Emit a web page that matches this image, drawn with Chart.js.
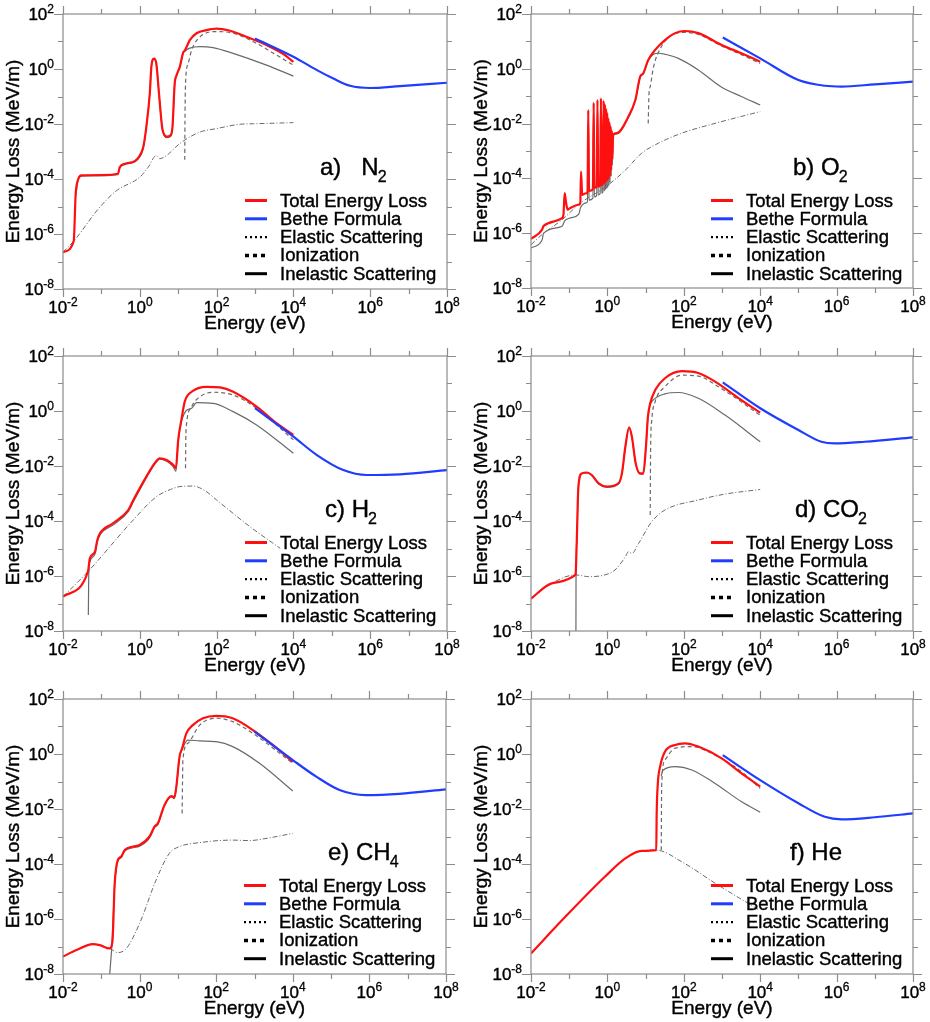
<!DOCTYPE html>
<html><head><meta charset="utf-8">
<script src="https://cdn.jsdelivr.net/npm/chart.js@4.4.1/dist/chart.umd.min.js"></script>
<style>
html,body{margin:0;padding:0;background:#fff;}
#wrap{position:relative;width:930px;height:1022px;overflow:hidden;background:#fff;}
canvas{position:absolute;}
</style></head><body><div id="wrap">
<canvas id="c0" width="465" height="340" style="left:0;top:0"></canvas>
<canvas id="c1" width="465" height="340" style="left:465px;top:0"></canvas>
<canvas id="c2" width="465" height="340" style="left:0;top:340px"></canvas>
<canvas id="c3" width="465" height="340" style="left:465px;top:340px"></canvas>
<canvas id="c4" width="465" height="342" style="left:0;top:680px"></canvas>
<canvas id="c5" width="465" height="342" style="left:465px;top:680px"></canvas>
</div>
<script>
// ---------- tick labels ----------
const X_TICKS = [1e-2,1e-1,1e0,1e1,1e2,1e3,1e4,1e5,1e6,1e7,1e8];
const X_LABEL_VALUES = [1e-2,1e0,1e2,1e4,1e6,1e8];
const X_LABEL_EXPS = ['-2','0','2','4','6','8'];
const Y_TICKS = [1e-8,1e-7,1e-6,1e-5,1e-4,1e-3,1e-2,1e-1,1e0,1e1,1e2];
const Y_LABEL_VALUES = [1e-8,1e-6,1e-4,1e-2,1e0,1e2];
const Y_LABEL_EXPS = ['-8','-6','-4','-2','0','2'];
const X_TITLE = 'Energy (eV)';
const Y_TITLE = 'Energy Loss (MeV/m)';
const LEGEND_LABELS = ['Total Energy Loss','Bethe Formula','Elastic Scattering','Ionization','Inelastic Scattering'];
const PANEL_NAMES = ['a)   N','b) O','c) H','d) CO','e) CH','f) He'];
const PANEL_SUBS = ['2','2','2','2','4',''];

// ---------- data: [energy eV, energy loss MeV/m] ----------
const N2_TOTAL = [[0.01,2.2e-7],[0.019,5.5e-7],[0.0214,2.9e-5],[0.025,1.0e-4],[0.030,1.35e-4],[0.1,1.4e-4],[0.27,1.55e-4],[0.30,2.7e-4],[0.41,3.6e-4],[0.74,4.5e-4],[1.0,7.2e-4],[1.23,1.45e-3],[1.48,7.9e-3],[1.82,0.129],[2.0,1.2],[2.34,2.4],[2.69,1.58],[3.16,0.129],[3.8,7.9e-3],[4.07,5.1e-3],[5.0,3.5e-3],[6.3,3.9e-3],[7.1,7.9e-3],[8.1,0.295],[9.1,0.6],[11,1.2],[13.5,4.0],[14.8,4.6],[20,11.2],[30,20],[55,26],[100,29.5],[224,24.5],[600,14.8],[2000,7.4],[5500,3.5],[1e4,1.8]];
const N2_INEL = [[0.0214,2.5e-5],[0.025,9.5e-5],[0.03,1.26e-4],[0.27,1.45e-4],[0.3,2.5e-4],[0.41,3.4e-4],[0.74,4.2e-4],[1.0,6.3e-4],[1.23,1.3e-3],[1.48,7.6e-3],[1.82,0.126],[2.0,1.17],[2.34,2.34],[2.69,1.55],[3.16,0.126],[3.8,7.4e-3],[4.07,4.7e-3],[5.0,3.2e-3],[6.3,3.5e-3],[7.1,7.4e-3],[8.1,0.28],[9.1,0.575],[11,1.15],[13.5,3.8],[14.8,4.4],[20,5.75],[37,6.5],[81,6.0],[270,3.7],[2000,1.38],[1e4,0.55]];
const N2_ION = [[14.8,5e-4],[15.1,0.032],[15.8,0.5],[18.2,1.58],[22.4,4.9],[37,14.8],[100,23],[270,20],[910,9.8],[3700,3.16],[1e4,1.38]];
const N2_ELAS = [[0.01,2.2e-7],[0.019,5.5e-7],[0.091,9.5e-6],[0.25,3.8e-5],[1.0,1.17e-4],[1.66,2.7e-4],[2.69,7.2e-4],[3.3,5.5e-4],[5.0,7.2e-4],[11,1.95e-3],[37,5.1e-3],[100,6.8e-3],[410,9.8e-3],[910,1.02e-2],[1e4,1.12e-2]];
const N2_BETHE = [[1000,12.9],[1e4,2.8],[4.1e4,0.91],[1.1e5,0.45],[3.0e5,0.245],[1e6,0.204],[6e6,0.24],[1e8,0.316]];

const O2_TOTAL = [[0.01,6.2e-7],[0.0195,1.35e-6],[0.0214,1.86e-6],[0.065,3.55e-6],[0.071,5e-6],[0.076,2.9e-5],[0.083,1.26e-5],[0.091,7.2e-6],[0.1,7.9e-6],[0.178,1.1e-5],[0.195,1.26e-5],[0.204,1.78e-4],[0.219,2.5e-5],[0.25,2.75e-5],[0.29,2.9e-5],
 [0.302,3.2e-5],[0.316,0.0316],[0.331,3.5e-5],[0.417,4e-5],[0.437,0.059],[0.457,4.5e-5],[0.525,5e-5],[0.55,0.074],[0.575,5e-5],[0.646,5.6e-5],[0.676,0.085],[0.708,5.6e-5],[0.759,6.3e-5],[0.794,0.069],[0.832,6.3e-5],[0.861,0.05],[0.891,7.1e-5],[0.923,0.035],[0.955,7.9e-5],[0.989,0.025],[1.023,8.9e-5],[1.059,0.0158],[1.096,1e-4],[1.135,0.0112],[1.175,1.26e-4],[1.216,7.9e-3],[1.259,2e-4],[1.303,5.6e-3],[1.349,5e-4],[1.413,4e-3],
 [1.78,4.5e-3],[3.55,0.018],[5.4,0.074],[7.2,0.52],[8.7,0.69],[11.7,2.1],[17.8,4.9],[32,11.2],[59,20],[107,24],[240,20],[980,7.4],[3200,3.7],[1e4,1.82]];
const O2_INEL = [[0.01,2.9e-7],[0.0195,5.6e-7],[0.0214,1e-6],[0.065,1.8e-6],[0.076,2.8e-6],[0.1,3.5e-6],[0.178,5e-6],[0.2,8.9e-6],[0.29,1.3e-5],
 [0.302,1.5e-5],[0.316,0.028],[0.331,1.6e-5],[0.417,1.9e-5],[0.437,0.053],[0.457,2.1e-5],[0.525,2.4e-5],[0.55,0.066],[0.575,2.5e-5],[0.646,2.8e-5],[0.676,0.076],[0.708,2.9e-5],[0.759,3.2e-5],[0.794,0.062],[0.832,3.4e-5],[0.861,0.045],[0.891,3.8e-5],[0.923,0.031],[0.955,4.2e-5],[0.989,0.022],[1.023,4.6e-5],[1.059,0.014],[1.096,5.5e-5],[1.135,0.01],[1.175,7e-5],[1.216,7e-3],[1.259,1.2e-4],[1.303,5e-3],[1.349,3e-4],[1.413,3.6e-3],
 [1.78,4.2e-3],[3.55,0.017],[5.4,0.069],[7.2,0.49],[8.7,0.65],[11.7,2.0],[15.8,3.3],[22,3.7],[32,3.4],[72,2.4],[240,0.91],[980,0.214],[3200,0.098],[1e4,0.048]];
const O2_ION = [[11.7,0.0102],[12.3,0.126],[13.2,0.224],[16.2,1.2],[26,6.5],[48,17],[107,21.4],[240,17.8],[980,6.8],[3200,3.3],[1e4,1.58]];
const O2_ELAS = [[0.01,3.8e-7],[0.0195,8.9e-7],[0.065,3.1e-6],[0.195,1.26e-5],[0.59,3.3e-5],[1.07,5.9e-5],[2.95,2.0e-4],[7.9,8.3e-4],[22,1.95e-3],[89,4.5e-3],[660,0.0102],[1e4,0.0275]];
const O2_BETHE = [[1050,13.8],[1e4,2.4],[1e5,0.39],[4.9e5,0.24],[1.35e6,0.224],[1e7,0.27],[1e8,0.34]];

const H2_TOTAL = [[0.01,1.78e-7],[0.0447,1.45e-6],[0.05,4.4e-6],[0.068,7.6e-6],[0.078,2.0e-5],[0.091,3.5e-5],[0.2,8.3e-5],[0.5,2.5e-4],[0.68,5.8e-4],[1.48,4.1e-3],[2.45,0.0126],[3.3,0.019],[5.0,0.0166],[7.4,0.011],[8.7,8.3e-3],[10,0.089],[12.3,0.54],[14.8,2.2],[22.4,5.0],[55,7.6],[123,7.2],[270,5.0],[1100,1.45],[3700,0.355],[1e4,0.135]];
const H2_INEL = [[0.0457,3.8e-8],[0.0468,1e-6],[0.05,3.2e-6],[0.068,6.3e-6],[0.078,1.66e-5],[0.091,3.0e-5],[0.2,7.1e-5],[0.5,2.2e-4],[0.68,5e-4],[1.48,3.7e-3],[2.45,0.0117],[3.3,0.0178],[5.0,0.015],[7.4,9.5e-3],[8.7,6.3e-3],[10,0.079],[12.3,0.45],[15.8,1.0],[22.4,1.26],[30,2.0],[81,1.9],[270,0.95],[1100,0.31],[1e4,0.029]];
const H2_ION = [[15.5,8.3e-3],[15.8,0.1],[16.6,0.355],[22.4,1.45],[37,3.3],[81,4.8],[270,3.8],[1100,1.26],[1e4,0.089]];
const H2_ELAS = [[0.01,1.78e-7],[0.0447,1.45e-6],[0.68,1.1e-4],[2.69,7.6e-4],[6.3,1.4e-3],[11,1.78e-3],[24.5,1.86e-3],[50,1.26e-3],[100,5.8e-4],[740,6.2e-5],[4500,1.02e-5]];
const H2_BETHE = [[1000,1.26],[1e4,0.117],[4.1e4,0.025],[2e5,7.1e-3],[8.1e5,4.7e-3],[6e6,5e-3],[1e8,7.1e-3]];

const CO2_TOTAL = [[0.01,1.5e-7],[0.035,5.4e-7],[0.145,1.1e-6],[0.148,1.26e-6],[0.158,2.0e-5],[0.174,1.78e-3],[0.214,5.4e-3],[0.29,5.8e-3],[0.39,4.7e-3],[0.59,2.35e-3],[0.98,1.78e-3],[1.95,2.35e-3],[2.4,5.4e-3],[2.95,0.05],[3.7,0.257],[4.37,0.117],[5.5,0.0126],[7.2,5.4e-3],[8.7,5.4e-3],[10.2,0.05],[11.5,0.62],[13.2,1.9],[17.8,5.75],[32,15.5],[89,28],[240,24],[660,11.7],[2700,2.95],[1e4,0.87]];
const CO2_INEL = [[0.15,1e-8],[0.151,1.1e-6],[0.158,1.8e-5],[0.174,1.7e-3],[0.214,5.2e-3],[0.29,5.6e-3],[0.39,4.5e-3],[0.59,2.2e-3],[0.98,1.65e-3],[1.95,2.2e-3],[2.4,5.2e-3],[2.95,0.048],[3.7,0.25],[4.37,0.112],[5.5,0.012],[7.2,5.1e-3],[8.7,5.1e-3],[10.2,0.047],[11.5,0.58],[13.2,1.7],[14.5,2.2],[32,4.2],[72,4.7],[240,2.9],[1200,0.71],[1e4,0.076]];
const CO2_ION = [[13.2,1.66e-4],[13.5,0.0316],[14.5,0.47],[17.8,2.2],[32,7.6],[89,20],[240,18.6],[810,7.6],[1e4,0.71]];
const CO2_ELAS = [[0.01,1.5e-7],[0.035,5.4e-7],[0.145,1.1e-6],[0.32,9.5e-7],[0.87,1.1e-6],[1.58,1.66e-6],[2.95,5e-6],[3.55,7.6e-6],[4.37,6.6e-6],[6.5,1.5e-5],[14.5,9.5e-5],[32,2.5e-4],[240,5.8e-4],[1200,9.5e-4],[1e4,1.4e-3]];
const CO2_BETHE = [[1050,11],[1e4,1.26],[1e5,0.204],[4e5,0.076],[8.9e5,0.066],[5.5e6,0.076],[1e8,0.11]];

const CH4_TOTAL = [[0.01,4.3e-8],[0.0224,7.4e-8],[0.06,1.23e-7],[0.091,1.12e-7],[0.166,8.5e-8],[0.195,1.5e-7],[0.224,2.0e-5],[0.27,1.4e-4],[0.33,1.86e-4],[0.41,3.2e-4],[0.68,4.3e-4],[1.0,4.9e-4],[1.82,1e-3],[2.45,2.3e-3],[3.0,3.0e-3],[4.47,0.0141],[6.8,0.0295],[8.1,0.0263],[9.1,0.065],[11,0.79],[12.9,1.62],[16.6,5.6],[24.5,11.2],[45,20],[100,24.5],[270,20],[910,7.4],[3000,2.14],[1e4,0.52]];
const CH4_INEL = [[0.166,1e-8],[0.19,1.26e-7],[0.224,1.8e-5],[0.27,1.26e-4],[0.33,1.7e-4],[0.41,2.95e-4],[0.68,3.9e-4],[1.0,4.4e-4],[1.82,8.9e-4],[2.45,2.1e-3],[3.0,2.75e-3],[4.47,0.0132],[6.8,0.0275],[8.1,0.024],[9.1,0.059],[11,0.72],[12.9,1.48],[18.2,3.2],[37,3.0],[100,2.8],[270,1.86],[1350,0.46],[1e4,0.045]];
const CH4_ION = [[12.9,6.9e-3],[13.2,0.1],[13.5,0.6],[18.2,2.45],[37,11.2],[100,20],[270,15],[910,5.6],[1e4,0.46]];
const CH4_ELAS = [[0.01,4.3e-8],[0.0224,7.4e-8],[0.06,1.23e-7],[0.091,1.12e-7],[0.166,8.5e-8],[0.27,6e-8],[0.45,8.5e-8],[1.0,6.9e-7],[2.69,2.6e-5],[6.0,2.45e-4],[11,4.3e-4],[37,6e-4],[270,7.4e-4],[740,7.1e-4],[2000,8.5e-4],[1e4,1.3e-3]];
const CH4_BETHE = [[1000,6.5],[1e4,0.6],[4.1e4,0.15],[1.66e5,0.049],[8.1e5,0.032],[6e6,0.0355],[1e8,0.052]];

const HE_TOTAL = [[0.01,5.6e-8],[0.079,1.2e-6],[0.87,3.5e-5],[2.95,1.6e-4],[7.9,3.0e-4],[19,3.2e-4],[19.5,6.9e-3],[20.9,0.085],[24,0.35],[32,1.2],[59,2.14],[107,2.45],[240,1.86],[980,0.69],[3200,0.2],[1e4,0.065]];
const HE_INEL = [[25.7,0.158],[28,0.25],[59,0.35],[162,0.263],[660,0.085],[3200,0.0186],[1e4,7.6e-3]];
const HE_ION = [[25.7,3.2e-4],[26.3,0.065],[32,0.6],[59,1.62],[162,1.86],[660,0.91],[3200,0.23],[1e4,0.056]];
const HE_ELAS = [[0.01,5.6e-8],[0.079,1.2e-6],[0.87,3.5e-5],[2.95,1.6e-4],[7.9,3.0e-4],[19,3.2e-4],[89,1.2e-4],[660,2e-5],[9500,2.1e-6]];
const HE_BETHE = [[1050,0.91],[1e4,0.112],[1e5,0.0162],[4.9e5,5.2e-3],[1.35e6,4.2e-3],[1e7,5e-3],[1e8,6.9e-3]];

const PANELS = [
  {total:N2_TOTAL, bethe:N2_BETHE, elas:N2_ELAS, ion:N2_ION, inel:N2_INEL},
  {total:O2_TOTAL, bethe:O2_BETHE, elas:O2_ELAS, ion:O2_ION, inel:O2_INEL},
  {total:H2_TOTAL, bethe:H2_BETHE, elas:H2_ELAS, ion:H2_ION, inel:H2_INEL},
  {total:CO2_TOTAL, bethe:CO2_BETHE, elas:CO2_ELAS, ion:CO2_ION, inel:CO2_INEL},
  {total:CH4_TOTAL, bethe:CH4_BETHE, elas:CH4_ELAS, ion:CH4_ION, inel:CH4_INEL},
  {total:HE_TOTAL, bethe:HE_BETHE, elas:HE_ELAS, ion:HE_ION, inel:HE_INEL}
];
// chart-area padding per panel [left, right, top, bottom]
const PADS = [[63,18,14,51],[66,17,14,52],[63,18,16,49],[66,17,16,49],[63,19,19,48],[66,17,19,48]];
const LABEL_DX = [257,262,262,264,265,259];

const FONT = '"Liberation Sans", Arial, Helvetica, sans-serif';
const RED = '#ff1010', BLUE = '#1f3cff', GRAY = '#6a6a6a';

const LEGEND_STYLE = [
  {color:RED, width:3, dash:[]},
  {color:BLUE, width:3, dash:[]},
  {color:'#000', width:2.2, dash:[2,3]},
  {color:'#000', width:3.5, dash:[4,4]},
  {color:'#000', width:3, dash:[]}
];

function boldText(ctx, s, x, y, w) {
  ctx.fillText(s, x, y);
  ctx.lineWidth = w;
  ctx.strokeText(s, x, y);
}

const framePlugin = {
  id: 'frame',
  afterDraw(chart) {
    const ctx = chart.ctx, a = chart.chartArea, xs = chart.scales.x, ys = chart.scales.y;
    const idx = chart.options.plugins.frame.idx;
    ctx.save();
    ctx.strokeStyle = '#8c8c8c';
    ctx.lineWidth = 1.2;
    ctx.strokeRect(a.left, a.top, a.right - a.left, a.bottom - a.top);
    ctx.beginPath();
    X_TICKS.forEach((v, i) => {
      const px = Math.round(xs.getPixelForValue(v)) + 0.5;
      const len = (i % 2 === 0) ? 8 : 5;
      ctx.moveTo(px, a.bottom); ctx.lineTo(px, a.bottom + len);
      ctx.moveTo(px, a.top); ctx.lineTo(px, a.top - len);
    });
    Y_TICKS.forEach((v, i) => {
      const py = Math.round(ys.getPixelForValue(v)) + 0.5;
      const len = (i % 2 === 0) ? 9 : 5;
      ctx.moveTo(a.left, py); ctx.lineTo(a.left - len, py);
      ctx.moveTo(a.right, py); ctx.lineTo(a.right + len, py);
    });
    ctx.stroke();

    // tick labels
    ctx.fillStyle = '#000';
    ctx.strokeStyle = '#000';
    ctx.textBaseline = 'alphabetic';
    const bigF = '17px ' + FONT, supF = '12px ' + FONT;
    X_LABEL_VALUES.forEach((v, i) => {
      const px = xs.getPixelForValue(v);
      ctx.font = bigF; const w1 = ctx.measureText('10').width;
      ctx.font = supF; const w2 = ctx.measureText(X_LABEL_EXPS[i]).width;
      const x0 = px - (w1 + w2) / 2;
      ctx.font = bigF; ctx.textAlign = 'left';
      boldText(ctx, '10', x0, a.bottom + 24, 0.4);
      ctx.font = supF;
      boldText(ctx, X_LABEL_EXPS[i], x0 + w1, a.bottom + 17, 0.3);
    });
    Y_LABEL_VALUES.forEach((v, i) => {
      const py = ys.getPixelForValue(v);
      ctx.font = supF; const w2 = ctx.measureText(Y_LABEL_EXPS[i]).width;
      ctx.font = bigF; const w1 = ctx.measureText('10').width;
      const xr = a.left - 9;
      ctx.textAlign = 'left';
      boldText(ctx, '10', xr - w2 - w1, py + 6, 0.4);
      ctx.font = supF;
      boldText(ctx, Y_LABEL_EXPS[i], xr - w2, py - 1, 0.3);
    });

    // axis titles
    ctx.font = '19px ' + FONT;
    ctx.textAlign = 'center';
    boldText(ctx, X_TITLE, (a.left + a.right) / 2, a.bottom + 39.5, 0.4);
    ctx.save();
    ctx.translate(a.left - 44, (a.top + a.bottom) / 2);
    ctx.rotate(-Math.PI / 2);
    boldText(ctx, Y_TITLE, 0, 0, 0.4);
    ctx.restore();

    // panel label
    ctx.textAlign = 'left';
    ctx.font = '24px ' + FONT;
    const lx = a.left + LABEL_DX[idx], ly = a.top + 161;
    boldText(ctx, PANEL_NAMES[idx], lx, ly, 0.4);
    const wn = ctx.measureText(PANEL_NAMES[idx]).width;
    if (PANEL_SUBS[idx]) {
      ctx.font = '16px ' + FONT;
      boldText(ctx, PANEL_SUBS[idx], lx + wn - 1, ly + 7, 0.3);
    }

    // legend
    ctx.textBaseline = 'middle';
    LEGEND_LABELS.forEach((lab, i) => {
      const yy = a.top + 186.5 + i * 18.3;
      const st = LEGEND_STYLE[i];
      ctx.beginPath();
      ctx.strokeStyle = st.color; ctx.lineWidth = st.width; ctx.setLineDash(st.dash);
      ctx.moveTo(a.right - 202, yy); ctx.lineTo(a.right - 180, yy);
      ctx.stroke();
      ctx.setLineDash([]);
      ctx.fillStyle = '#000'; ctx.strokeStyle = '#000';
      ctx.font = '18.5px ' + FONT;
      boldText(ctx, lab, a.right - 167, yy + 1, 0.4);
    });
    ctx.restore();
  }
};

function toXY(arr) { return arr.map(p => ({x: p[0], y: p[1]})); }

PANELS.forEach((P, i) => {
  const pad = PADS[i];
  new Chart(document.getElementById('c' + i), {
    type: 'line',
    data: {
      datasets: [
        {label: LEGEND_LABELS[0], data: toXY(P.total), borderColor: RED, borderWidth: 2.2, order: 1},
        {label: LEGEND_LABELS[1], data: toXY(P.bethe), borderColor: BLUE, borderWidth: 2.2, order: 0},
        {label: LEGEND_LABELS[2], data: toXY(P.elas), borderColor: GRAY, borderWidth: 1, borderDash: [5,2,1,2], order: 4},
        {label: LEGEND_LABELS[3], data: toXY(P.ion), borderColor: GRAY, borderWidth: 1.2, borderDash: [4,3], order: 3},
        {label: LEGEND_LABELS[4], data: toXY(P.inel), borderColor: GRAY, borderWidth: 1.2, order: 2}
      ]
    },
    options: {
      responsive: false,
      animation: false,
      events: [],
      elements: {point: {radius: 0}, line: {cubicInterpolationMode: 'monotone', fill: false}},
      layout: {padding: {left: pad[0], right: pad[1], top: pad[2], bottom: pad[3]}},
      scales: {
        x: {type: 'logarithmic', min: 1e-2, max: 1e8, display: false},
        y: {type: 'logarithmic', min: 1e-8, max: 1e2, display: false}
      },
      plugins: {legend: {display: false}, tooltip: {enabled: false}, frame: {idx: i}}
    },
    plugins: [framePlugin]
  });
});
</script></body></html>
